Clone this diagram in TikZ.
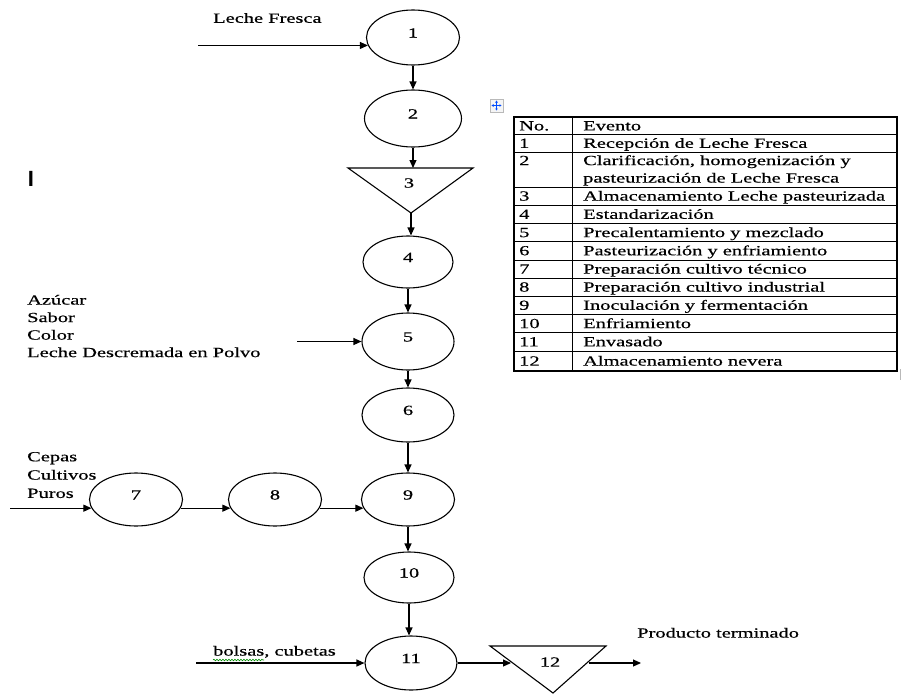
\documentclass[tikz,border=0pt]{standalone}
\usepackage{fontspec}
\setmainfont{Liberation Serif}[FakeStretch=1.46,FakeBold=0.6]
\newfontfamily\barfont{Liberation Sans}
\usetikzlibrary{arrows.meta,shapes.geometric,decorations.pathmorphing}

\begin{document}
\begin{tikzpicture}[x=1pt,y=-1pt,
  txt/.style={font=\fontsize{14}{18}\selectfont, inner sep=0pt, text=black},
  stepnode/.style={draw, ellipse, line width=1.1pt, inner sep=0pt,
    minimum width=92pt, minimum height=54pt,
    font=\fontsize{14}{18}\selectfont, text height=10pt, text depth=10pt},
  rowstep/.style={stepnode, minimum width=93pt, minimum height=53pt},
  flow/.style={draw, line width=1.1pt, -{Triangle[length=8pt,width=7pt]}},
  tri/.style={draw, line width=1.1pt, line join=miter},
  grid/.style={line width=1pt},
  frame/.style={line width=1.7pt},
]
\useasboundingbox (0,0) rectangle (902,696);

% ---------- process steps (operations) ----------
\node[stepnode, minimum width=93pt, minimum height=55pt] (n1) at (413,37.5) {1};
\node[stepnode, minimum width=97pt, minimum height=57pt] (n2) at (413,118.5) {2};
\node[stepnode, minimum width=90pt, minimum height=52pt] (n4) at (408,262) {4};
\node[stepnode, minimum height=57pt] (n5) at (408,341.5) {5};
\node[stepnode] (n6) at (408,415) {6};
\node[rowstep] (n9) at (408,499.5) {9};
\node[stepnode, minimum width=90pt, minimum height=51pt] (n10) at (409,577.5) {10};
\node[stepnode] (n11) at (411,663) {11};
\node[rowstep] (n7) at (136,499.5) {7};
\node[rowstep] (n8) at (275,499.5) {8};

% ---------- storage steps (inverted triangles) ----------
\coordinate (t3l) at (348,168);
\coordinate (t3r) at (473,168);
\coordinate (t3apex) at (411,213);
\coordinate (t3top) at (413,168);
\draw[tri] (t3l) -- (t3r) -- (t3apex) -- cycle;
\node[txt] (t3) at (409,183) {3};

\coordinate (t12l) at (490,646);
\coordinate (t12r) at (606,646);
\coordinate (t12apex) at (553,693);
\coordinate (t12in) at (511,663);
\coordinate (t12out) at (589,663);
\draw[tri] (t12l) -- (t12r) -- (t12apex) -- cycle;
\node[txt] (t12) at (550,662) {12};

% ---------- main flow ----------
\draw[flow] (n1.south) -- (n1.south |- n2.north);
\draw[flow] (n2.south) -- (n2.south |- t3top);
\draw[flow] (t3apex) -- (t3apex |- n4.north);
\draw[flow] (n4.south) -- (n4.south |- n5.north);
\draw[flow] (n5.south) -- (n5.south |- n6.north);
\draw[flow] (n6.south) -- (n6.south |- n9.north);
\draw[flow] (n9.south) -- (n9.south |- n10.north);
\draw[flow] (n10.south) -- (n10.south |- n11.north);
\draw[flow] (n7.-11) -- (n8.191);
\draw[flow] (n8.-11) -- (n9.191);
\draw[flow] (n11.east) -- (t12in);
\coordinate (outend) at (641,663);
\draw[flow] (t12out) -- (outend);

% ---------- inputs ----------
\coordinate (src1) at (198,0 |- n1.190);
\draw[flow] (src1) -- (n1.190);
\coordinate (src5) at (297,341.5);
\draw[flow] (src5) -- (n5.west);
\coordinate (src7) at (10,0 |- n7.191);
\draw[flow] (src7) -- (n7.191);
\coordinate (src11) at (196,663);
\draw[flow] (src11) -- (n11.west);

% ---------- input / output labels ----------
\node[txt, anchor=west] (lblLeche) at (213,18) {Leche Fresca};
\node[txt, anchor=base west] (lblAz) at (27,304.6) {Azúcar};
\node[txt, anchor=base west] (lblSab) at (27,322.1) {Sabor};
\node[txt, anchor=base west] (lblCol) at (27,339.6) {Color};
\node[txt, anchor=base west] (lblLdp) at (27,357.1) {Leche Descremada en Polvo};
\node[txt, anchor=base west] (lblCep) at (27,461.3) {Cepas};
\node[txt, anchor=base west] (lblCul) at (27,479.6) {Cultivos};
\node[txt, anchor=base west] (lblPur) at (27,497.9) {Puros};
\node[txt, anchor=base west] (lblBol) at (213,655.6) {bolsas, cubetas};
\draw[green!55!black, line width=0.6pt, decorate,
  decoration={snake, amplitude=0.8pt, segment length=3pt}] (213,660) -- (264,660);
\node[txt, anchor=base west] (lblProd) at (637,637.6) {Producto terminado};
\node[inner sep=0pt, font=\barfont\bfseries\fontsize{22}{22}\selectfont] (bar) at (31,178.5) {I};

% ---------- legend table ----------
% table handle
\draw[gray!55, fill=gray!8, line width=0.6pt] (490,99) rectangle (503,112);
\draw[blue!70!cyan, line width=0.8pt, {Triangle[length=2pt,width=2.5pt]}-{Triangle[length=2pt,width=2.5pt]}] (491.5,105.5) -- (501.5,105.5);
\draw[blue!70!cyan, line width=0.8pt, {Triangle[length=2pt,width=2.5pt]}-{Triangle[length=2pt,width=2.5pt]}] (496.5,100.5) -- (496.5,110.5);

\foreach \yy in {134.5,152,187,205,223.5,241.5,260,278,296,314.5,332.5,351}
  \draw[grid] (514,\yy) -- (897,\yy);
\draw[grid] (572,117) -- (572,371);
\draw[frame] (514,117) rectangle (897,371);
\draw[gray!55, line width=1pt] (900.5,369) -- (900.5,380);

\node[txt, anchor=base west] (hNo) at (519,130.4) {No.};
\node[txt, anchor=base west] (hEv) at (583,130.4) {Evento};
\node[txt, anchor=base west] (r1n) at (519,147.8) {1};
\node[txt, anchor=base west] (r1e) at (583,147.8) {Recepción de Leche Fresca};
\node[txt, anchor=base west] (r2n) at (519,165.1) {2};
\node[txt, anchor=base west] (r2e) at (583,165.1) {Clarificación, homogenización y};
\node[txt, anchor=base west] (r2f) at (583,182.6) {pasteurización de Leche Fresca};
\node[txt, anchor=base west] (r3n) at (519,200.6) {3};
\node[txt, anchor=base west] (r3e) at (583,200.6) {Almacenamiento Leche pasteurizada};
\node[txt, anchor=base west] (r4n) at (519,218.8) {4};
\node[txt, anchor=base west] (r4e) at (583,218.8) {Estandarización};
\node[txt, anchor=base west] (r5n) at (519,237.1) {5};
\node[txt, anchor=base west] (r5e) at (583,237.1) {Precalentamiento y mezclado};
\node[txt, anchor=base west] (r6n) at (519,255.3) {6};
\node[txt, anchor=base west] (r6e) at (583,255.3) {Pasteurización y enfriamiento};
\node[txt, anchor=base west] (r7n) at (519,273.6) {7};
\node[txt, anchor=base west] (r7e) at (583,273.6) {Preparación cultivo técnico};
\node[txt, anchor=base west] (r8n) at (519,291.6) {8};
\node[txt, anchor=base west] (r8e) at (583,291.6) {Preparación cultivo industrial};
\node[txt, anchor=base west] (r9n) at (519,309.8) {9};
\node[txt, anchor=base west] (r9e) at (583,309.8) {Inoculación y fermentación};
\node[txt, anchor=base west] (r10n) at (519,328.1) {10};
\node[txt, anchor=base west] (r10e) at (583,328.1) {Enfriamiento};
\node[txt, anchor=base west] (r11n) at (519,346.3) {11};
\node[txt, anchor=base west] (r11e) at (583,346.3) {Envasado};
\node[txt, anchor=base west] (r12n) at (519,365.6) {12};
\node[txt, anchor=base west] (r12e) at (583,365.6) {Almacenamiento nevera};
\end{tikzpicture}
\end{document}
